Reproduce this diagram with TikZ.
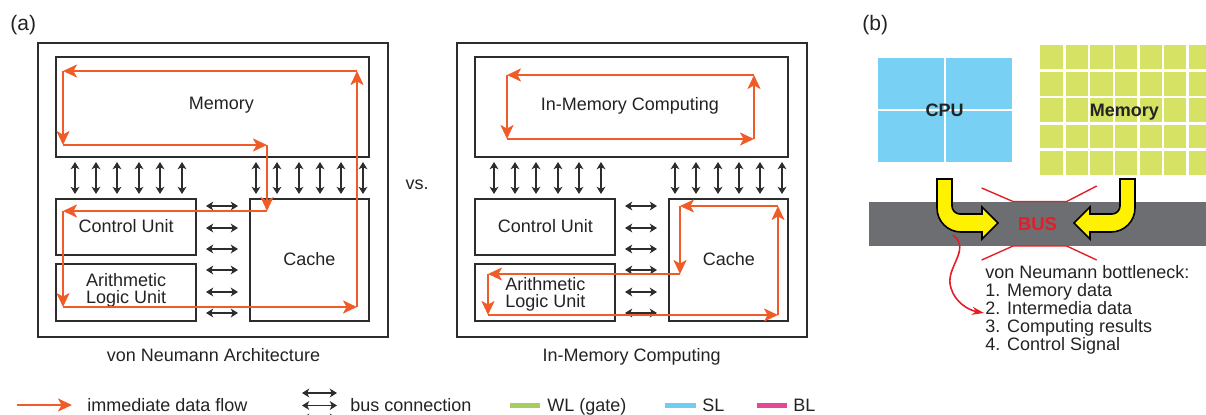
\documentclass[tikz,border=0pt]{standalone}
\usepackage{fontspec}
\setmainfont{Liberation Sans}
\usetikzlibrary{arrows.meta}
\definecolor{boxc}{RGB}{45,45,45}
\definecolor{txt}{RGB}{35,35,35}
\definecolor{flow}{RGB}{240,92,40}
\definecolor{cpub}{RGB}{120,208,245}
\definecolor{memg}{RGB}{214,226,100}
\definecolor{wlg}{RGB}{165,205,95}
\definecolor{slb}{RGB}{110,205,240}
\definecolor{blp}{RGB}{230,70,150}
\definecolor{busg}{RGB}{109,110,113}
\definecolor{bred}{RGB}{228,30,38}
\definecolor{yarrow}{RGB}{255,242,0}
\begin{document}
\begin{tikzpicture}[x=0.5pt,y=-0.5pt,
  font=\fontsize{9pt}{10.8pt}\selectfont,
  box/.style={draw=boxc, line width=1pt, inner sep=0pt, rectangle},
  lbl/.style={inner sep=0pt, anchor=base, text=txt},
  lgd/.style={inner sep=0pt, anchor=base west, text=txt},
  flowarr/.style={draw=flow, line width=1.15pt, -{Stealth[length=7pt,width=6.5pt,inset=1.8pt]}},
  busarr/.style={draw=boxc, line width=0.85pt, {Stealth[length=3.6pt,width=4.4pt,inset=1pt]}-{Stealth[length=3.6pt,width=4.4pt,inset=1pt]}},
  bline/.style={draw=bred, line width=0.7pt},
]
\useasboundingbox (0,0) rectangle (1206,414);

% ---------------- panel (a) ----------------
\node[inner sep=0pt, anchor=base west, text=txt, font=\fontsize{10.5pt}{12pt}\selectfont] (tagA) at (10,30) {(a)};

\foreach \dx/\p in {0/L,419/R}{
  \node[box, minimum width=175pt, minimum height=147pt] (outer\p) at (213+\dx,190) {};
  \node[box, minimum width=156.5pt, minimum height=50pt] (mem\p) at (212.5+\dx,107) {};
  \node[box, minimum width=70pt, minimum height=28pt] (cu\p) at (126+\dx,227) {};
  \node[box, minimum width=70pt, minimum height=28.5pt] (alu\p) at (126+\dx,292.5) {};
  \node[box, minimum width=59.5pt, minimum height=61pt] (cache\p) at (309.5+\dx,260) {};
  \foreach \x in {75,96,117,139,160,182}{
    \coordinate (t) at (\x+\dx,0);
    \draw[busarr, shorten <=2pt, shorten >=2pt] (mem\p.south -| t) -- (cu\p.north -| t);
  }
  \foreach \x in {256,277,299,320,341,363}{
    \coordinate (t) at (\x+\dx,0);
    \draw[busarr, shorten <=2pt, shorten >=2pt] (mem\p.south -| t) -- (cache\p.north -| t);
  }
  \foreach \y in {206,228,249,270,292,313}{
    \coordinate (t) at (0,\y);
    \draw[busarr, shorten <=4.5pt, shorten >=5.5pt] (cu\p.east |- t) -- (cache\p.west |- t);
  }
}

% labels, left
\node[lbl] (lmem) at (221.3,109) {Memory};
\node[lbl] (lcuL) at (126.2,232) {Control Unit};
\node[lbl, align=center, anchor=north, font=\fontsize{9pt}{8.5pt}\selectfont] (laluL) at (126.2,273.5) {Arithmetic\\Logic Unit};
\node[lbl] (lcacheL) at (309.5,265.5) {Cache};
\node[lbl] (capL) at (213.5,361.5) {von Neumann Architecture};
\node[lbl] (vs) at (417,189) {vs.};

% labels, right
\node[lbl] (limc) at (630,110.5) {In-Memory Computing};
\node[lbl] (lcuR) at (545.5,232) {Control Unit};
\node[lbl, align=center, anchor=north, font=\fontsize{9pt}{8.5pt}\selectfont] (laluR) at (545.3,277) {Arithmetic\\Logic Unit};
\node[lbl] (lcacheR) at (728.8,265.5) {Cache};
\node[lbl] (capR) at (631.7,361.5) {In-Memory Computing};

% flow loop, von Neumann
\coordinate (a1) at (357,71);  \coordinate (a2) at (63,71);
\coordinate (a3) at (63,145);  \coordinate (a4) at (267,145);
\coordinate (a5) at (267,211); \coordinate (a6) at (63,211);
\coordinate (a7) at (63,307);  \coordinate (a8) at (357,307);
\draw[flowarr] (a1) -- (a2);
\draw[flowarr] (a2) -- (a3);
\draw[flowarr] (a3) -- (a4);
\draw[flowarr] (a4) -- (a5);
\draw[flowarr] (a5) -- (a6);
\draw[flowarr] (a6) -- (a7);
\draw[flowarr] (a7) -- (a8);
\draw[flowarr] (a8) -- (a1);

% flow loops, in-memory
\coordinate (b1) at (754,75);  \coordinate (b2) at (507,75);
\coordinate (b3) at (507,139); \coordinate (b4) at (754,139);
\draw[flowarr] (b1) -- (b2);
\draw[flowarr] (b2) -- (b3);
\draw[flowarr] (b3) -- (b4);
\draw[flowarr] (b4) -- (b1);
\coordinate (c1) at (778,206); \coordinate (c2) at (680,206);
\coordinate (c3) at (680,274); \coordinate (c4) at (488,274);
\coordinate (c5) at (488,315); \coordinate (c6) at (778,315);
\draw[flowarr] (c1) -- (c2);
\draw[flowarr] (c2) -- (c3);
\draw[flowarr] (c3) -- (c4);
\draw[flowarr] (c4) -- (c5);
\draw[flowarr] (c5) -- (c6);
\draw[flowarr] (c6) -- (c1);

% ---------------- legend ----------------
\coordinate (g1) at (17,405); \coordinate (g2) at (72,405);
\draw[flowarr] (g1) -- (g2);
\node[lgd] (tg1) at (87,411) {immediate data flow};
\foreach \y [count=\i] in {393,405.5,418}{
  \coordinate (h\i a) at (302,\y); \coordinate (h\i b) at (337,\y);
  \draw[busarr] (h\i a) -- (h\i b);
}
\node[lgd] (tg2) at (350,411) {bus connection};
\coordinate (w1) at (510,405); \coordinate (w2) at (540,405);
\draw[wlg, line width=2.5pt] (w1) -- (w2);
\node[lgd] (tg3) at (547,411) {WL (gate)};
\coordinate (s1) at (665,405); \coordinate (s2) at (696,405);
\draw[slb, line width=2.5pt] (s1) -- (s2);
\node[lgd] (tg4) at (702,411) {SL};
\coordinate (p1) at (757,405); \coordinate (p2) at (787,405);
\draw[blp, line width=2.5pt] (p1) -- (p2);
\node[lgd] (tg5) at (793,411) {BL};

% ---------------- panel (b) ----------------
\node[inner sep=0pt, anchor=base west, text=txt, font=\fontsize{10.5pt}{12pt}\selectfont] (tagB) at (862,30) {(b)};

\node[fill=cpub, inner sep=0pt, minimum width=67pt, minimum height=51.7pt] (cpu) at (944.7,110) {};
\draw[white, line width=1pt] (cpu.north) -- (cpu.south);
\draw[white, line width=1pt] (cpu.west) -- (cpu.east);
\node[inner sep=0pt, anchor=base, text=txt, font=\fontsize{9pt}{10pt}\selectfont\bfseries] (cput) at (944.5,116.7) {CPU};

\node[fill=memg, inner sep=0pt, anchor=north west, minimum width=83pt, minimum height=65pt] (memb) at (1040,45) {};
\foreach \x in {1064.5,1089,1114,1138.5,1163,1187.5}{
  \coordinate (t) at (\x,0);
  \draw[white, line width=1.1pt] (memb.north -| t) -- (memb.south -| t);
}
\foreach \y in {70.5,97,123.5,149.5}{
  \coordinate (t) at (0,\y);
  \draw[white, line width=1.1pt] (memb.west |- t) -- (memb.east |- t);
}
\node[inner sep=0pt, anchor=base, text=txt, font=\fontsize{9pt}{10pt}\selectfont\bfseries] (membt) at (1124.3,116.7) {Memory};

\node[fill=busg, inner sep=0pt, anchor=north west, minimum width=168.5pt, minimum height=21.75pt] (bus) at (869,202) {};
\node[inner sep=0pt, anchor=base, text=bred, font=\fontsize{9.3pt}{10pt}\selectfont\bfseries] (bust) at (1037.5,230) {BUS};

% bottleneck lines
\draw[bline] (981.7,188) -- (1013,201.5) -- (1066.7,201.5) -- (1096.7,186);
\draw[bline] (981.7,260) -- (1013,246) -- (1066.7,246) -- (1096.7,260);

% yellow arrows
\filldraw[fill=yarrow, draw=black, line width=0.8pt, line join=miter]
  (937,179) [rounded corners=12pt] -- (937,232) [sharp corners] -- (982,232) -- (982,239) -- (998,223)
  -- (982,207) -- (982,214) [rounded corners=4pt] -- (952,214) [sharp corners] -- (952,179) -- cycle;
\filldraw[fill=yarrow, draw=black, line width=0.8pt, line join=miter]
  (1135,179) [rounded corners=12pt] -- (1135,232) [sharp corners] -- (1090,232) -- (1090,239) -- (1074,223)
  -- (1090,207) -- (1090,214) [rounded corners=4pt] -- (1120,214) [sharp corners] -- (1120,179) -- cycle;

% bottleneck text
\node[lgd] (n0) at (985,278) {von Neumann bottleneck:};
\node[lgd] (n1) at (985,296) {1. Memory data};
\node[lgd] (n2) at (985,314) {2. Intermedia data};
\node[lgd] (n3) at (985,332) {3. Computing results};
\node[lgd] (n4) at (985,350) {4. Control Signal};

\coordinate (rs) at (953,235);
\coordinate (re) at (984,313);
\draw[draw=bred, line width=0.8pt, -{Stealth[length=6pt,width=4pt]}]
  (rs) .. controls (972,250) and (944,268) .. (951,288)
  .. controls (955,302) and (968,310) .. (re);
\end{tikzpicture}
\end{document}
